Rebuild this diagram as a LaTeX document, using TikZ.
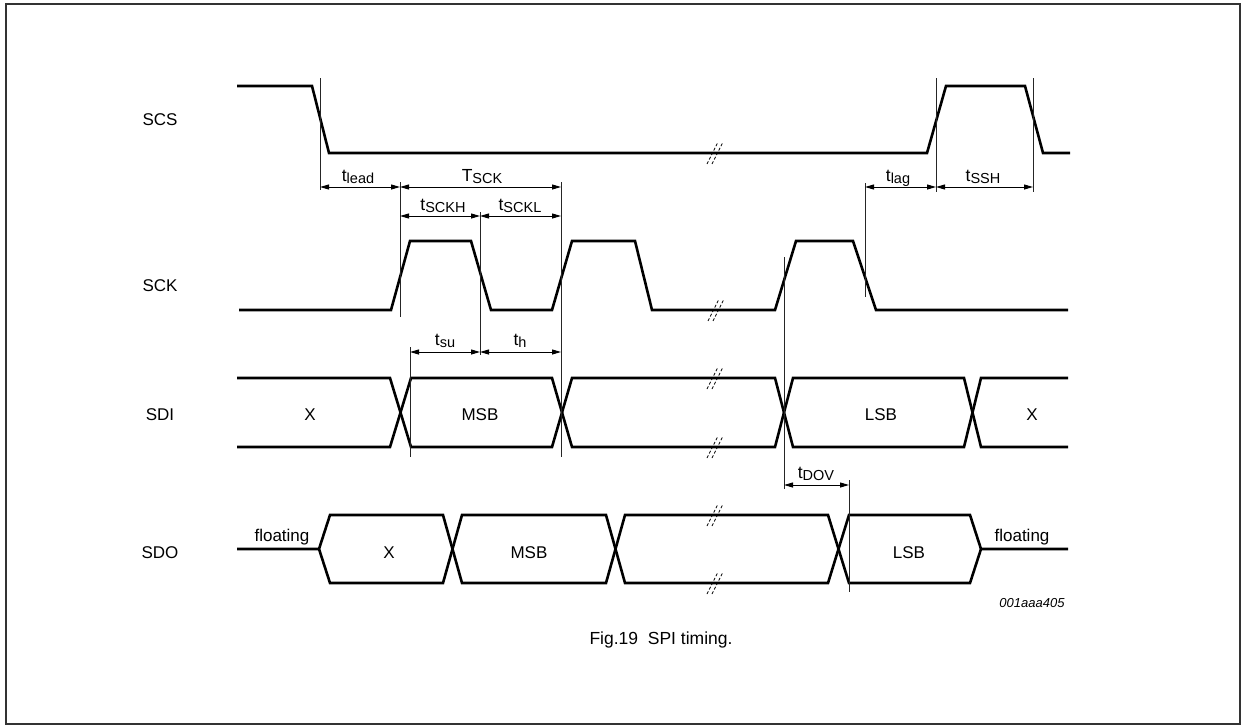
\documentclass[tikz,border=0pt]{standalone}
\usepackage{fontspec}
\setmainfont{Liberation Sans}
\usetikzlibrary{arrows.meta}
\newcommand\mainsz{\fontsize{17}{20}\selectfont}
\newcommand\labsz{\fontsize{17.5}{20}\selectfont}
\newcommand\sbx[1]{\raisebox{-2pt}{\fontsize{14.5}{16}\selectfont #1}}
\begin{document}
\begin{tikzpicture}[x=1pt,y=-1pt,
  wave/.style={line width=2.6pt,line join=miter,line cap=butt},
  refl/.style={line width=1pt,black!85},
  dim/.style={line width=1pt,{Triangle[length=9pt,width=5pt]}-{Triangle[length=9pt,width=5pt]}},
  brkline/.style={line width=0.8pt,dash pattern=on 3pt off 2pt},
  brk/.pic={\draw[brkline] (-8,11)--(3,-11); \draw[brkline] (-3,11)--(8,-11);},
  sig/.style={font=\mainsz,anchor=center},
  txt/.style={font=\mainsz},
  lab/.style={font=\mainsz,anchor=base},
  tlab/.style={font=\labsz,anchor=base}]
\useasboundingbox (0,0) rectangle (1245,728);
\draw[line width=1.6pt,black!80] (6,4) rectangle (1240,724);

% signal names
\node[sig] (nSCS) at (160,120) {SCS};
\node[sig] (nSCK) at (160,286) {SCK};
\node[sig] (nSDI) at (160,415) {SDI};
\node[sig] (nSDO) at (160,553) {SDO};

% SCS
\draw[wave] (237,86)--(312,86)--(329,153)--(927,153)--(946,86)--(1025,86)--(1043,153)--(1070,153);
\pic at (715,153) {brk};
% SCK
\draw[wave] (239,310)--(391,310)--(410,241)--(471,241)--(491,310)--(552,310)--(572,241)--(635,241)--(652,310)--(775,310)--(796,241)--(853,241)--(876,310)--(1068,310);
\pic at (716,310) {brk};
% SDI
\draw[wave] (237,378)--(390,378)--(411,447)--(552,447)--(572,378)--(775,378)--(793,447)--(964,447)--(981,378)--(1068,378);
\draw[wave] (237,447)--(390,447)--(411,378)--(552,378)--(572,447)--(775,447)--(793,378)--(964,378)--(981,447)--(1068,447);
\pic at (715,378) {brk};
\pic at (715,447) {brk};
\node[txt] (sdiX1) at (310,415) {X};
\node[txt] (sdiMSB) at (480,415) {MSB};
\node[txt] (sdiLSB) at (881,415) {LSB};
\node[txt] (sdiX2) at (1032,415) {X};
% SDO
\draw[wave] (237,549)--(319,549)--(330,515)--(443,515)--(462,583)--(606,583)--(625,515)--(828,515)--(849,583)--(970,583)--(981,549)--(1068,549);
\draw[wave] (319,549)--(330,583)--(443,583)--(462,515)--(606,515)--(625,583)--(828,583)--(849,515)--(970,515)--(981,549);
\pic at (715,515) {brk};
\pic at (715,583) {brk};
\node[lab] (flt1) at (282,541) {floating};
\node[lab] (flt2) at (1022,541) {floating};
\node[txt] (sdoX) at (389,553) {X};
\node[txt] (sdoMSB) at (529,553) {MSB};
\node[txt] (sdoLSB) at (909,553) {LSB};

% reference lines
\coordinate (l1t) at (320,78);   \coordinate (l1b) at (320,190);
\coordinate (l2t) at (400,182);  \coordinate (l2b) at (400,317);
\coordinate (l3t) at (561,182);  \coordinate (l3b) at (561,457);
\coordinate (l4t) at (480,212);  \coordinate (l4b) at (480,355);
\coordinate (l5t) at (410,347);  \coordinate (l5b) at (410,457);
\coordinate (l6t) at (936,78);   \coordinate (l6b) at (936,192);
\coordinate (l7t) at (1033,78);  \coordinate (l7b) at (1033,192);
\coordinate (l8t) at (865,183);  \coordinate (l8b) at (865,297);
\coordinate (l9t) at (784,257);  \coordinate (l9b) at (784,489);
\coordinate (l10t) at (849,480); \coordinate (l10b) at (849,592);
\foreach \i in {1,...,10} \draw[refl] (l\i t)--(l\i b);

% dimension arrows
\coordinate (a1) at (320,187); \coordinate (a2) at (400,187); \coordinate (a3) at (561,187);
\coordinate (a4) at (865,187); \coordinate (a5) at (936,187); \coordinate (a6) at (1033,187);
\coordinate (b1) at (400,216); \coordinate (b2) at (480,216); \coordinate (b3) at (561,216);
\coordinate (c1) at (410,352); \coordinate (c2) at (480,352); \coordinate (c3) at (561,352);
\coordinate (d1) at (784,485); \coordinate (d2) at (849,485);
\draw[dim] (a1)--(a2); \draw[dim] (a2)--(a3);
\draw[dim] (a4)--(a5); \draw[dim] (a5)--(a6);
\draw[dim] (b1)--(b2); \draw[dim] (b2)--(b3);
\draw[dim] (c1)--(c2); \draw[dim] (c2)--(c3);
\draw[dim] (d1)--(d2);

\node[tlab] (tlead) at (358,181) {t\sbx{lead}};
\node[tlab] (tsck) at (482,181) {T\sbx{SCK}};
\node[tlab] (tlag) at (898,181) {t\sbx{lag}};
\node[tlab] (tssh) at (983,181) {t\sbx{SSH}};
\node[tlab] (tsckh) at (443,210) {t\sbx{SCKH}};
\node[tlab] (tsckl) at (520,210) {t\sbx{SCKL}};
\node[tlab] (tsu) at (445,345) {t\sbx{su}};
\node[tlab] (th) at (520,345) {t\sbx{h}};
\node[tlab] (tdov) at (816,478) {t\sbx{DOV}};

\node[font=\fontsize{13}{15}\selectfont\itshape] (code) at (1032,603) {001aaa405};
\node[font=\fontsize{17.5}{20}\selectfont] (cap) at (661,640) {Fig.19\ \ SPI timing.};
\end{tikzpicture}
\end{document}
